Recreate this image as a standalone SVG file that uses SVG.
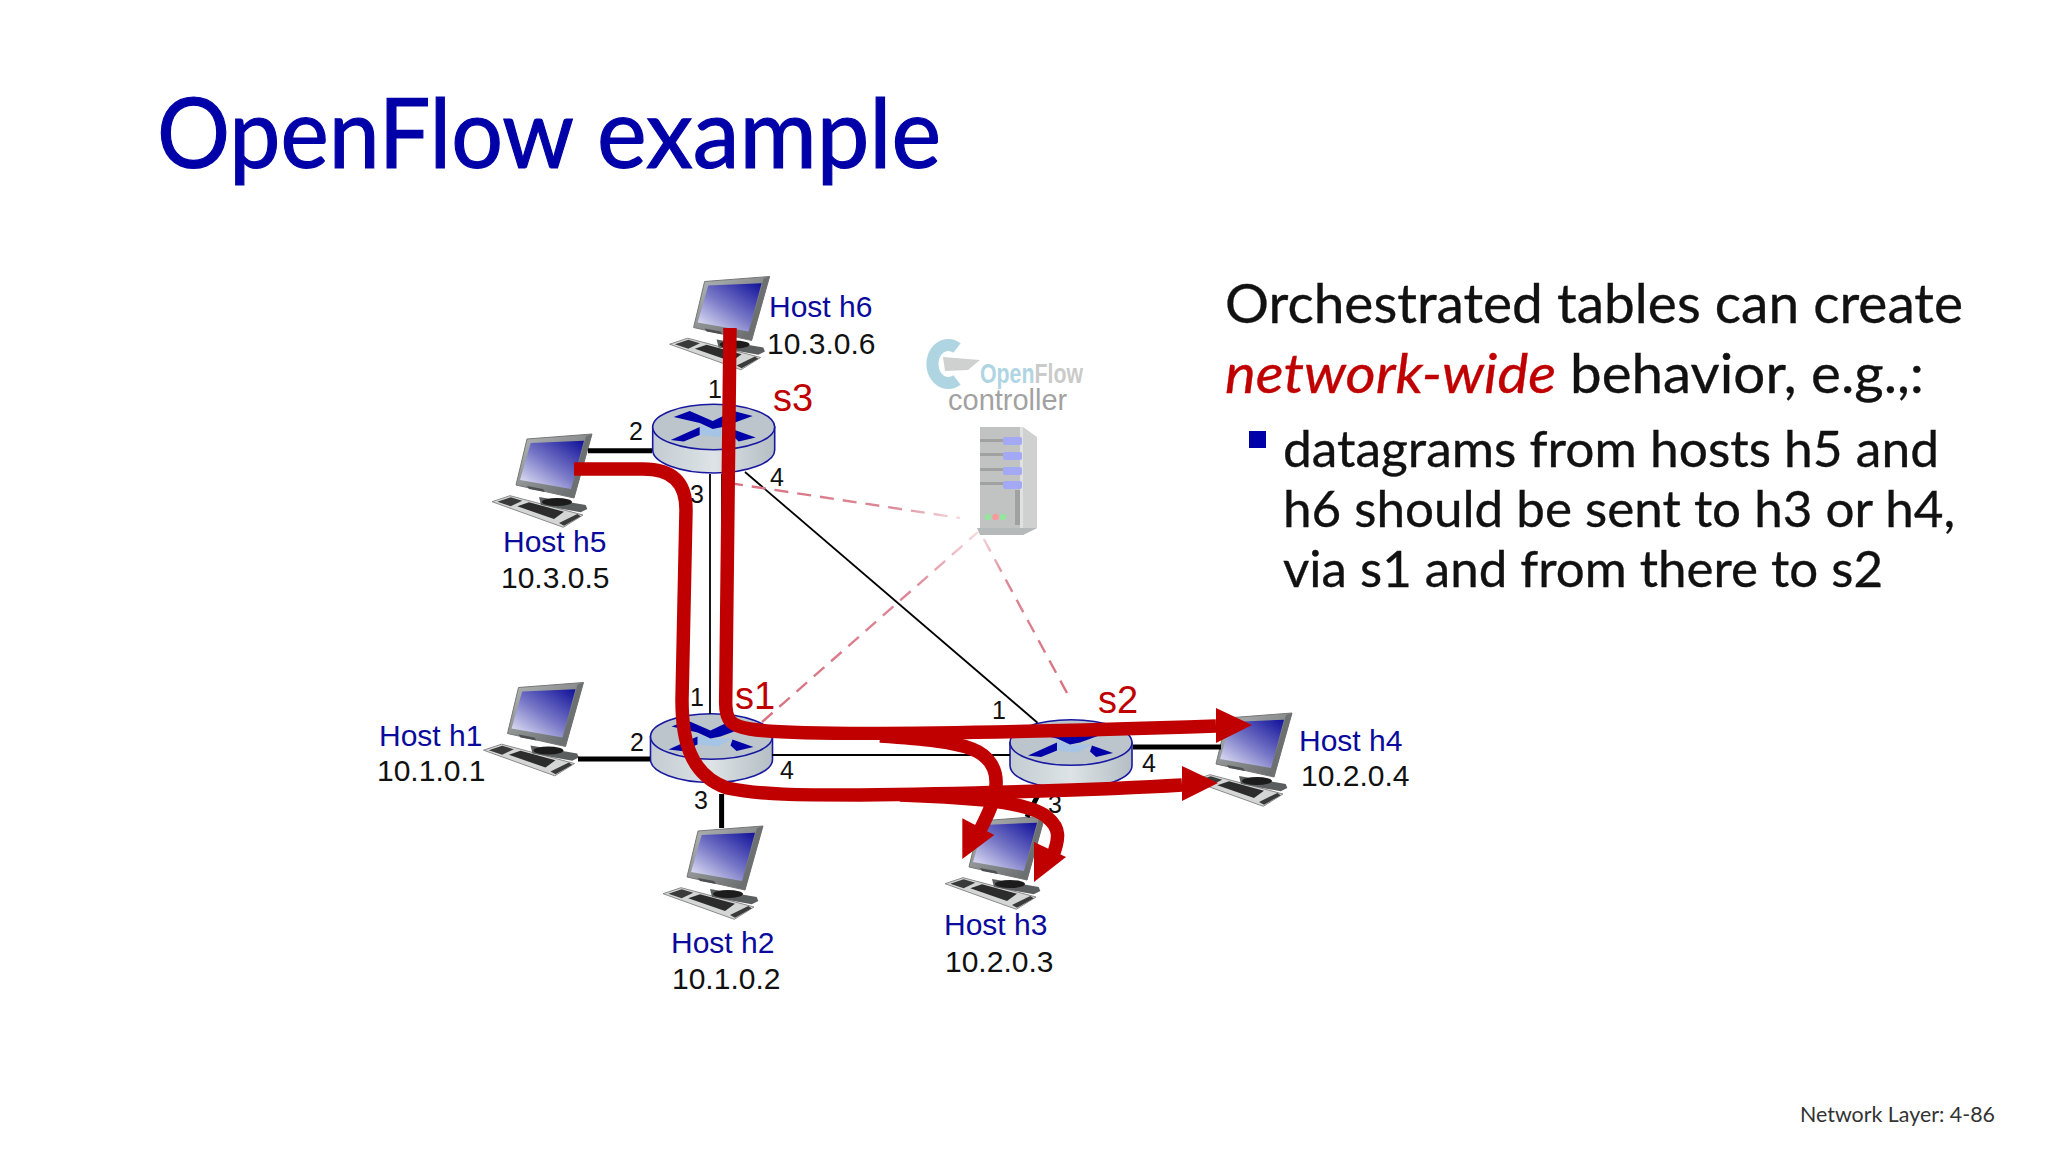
<svg xmlns="http://www.w3.org/2000/svg" width="2048" height="1152" viewBox="0 0 2048 1152">
<style>
text{font-family:"Liberation Sans",Arial,sans-serif}
.slide{font-family:Lato,"Open Sans",sans-serif}
.title{font-size:96px;fill:#0000a8;stroke:#0000a8;stroke-width:1.2}
.body{fill:#111;stroke:#111;stroke-width:.35}
.h{font-size:30px;fill:#0a0a9c}
.ip{font-size:30px;fill:#111}
.sw{font-size:38px;fill:#c00000}
.p{font-size:25px;fill:#111;text-anchor:middle}
.thick{stroke:#000;stroke-width:5;fill:none}
.thin{stroke:#000;stroke-width:1.8;fill:none}
.dash{stroke-width:2.4;stroke-dasharray:14 9;fill:none}
.flow{stroke:#c00000;stroke-width:13.5;fill:none;stroke-linejoin:round}
.head{fill:#c00000}
</style>
<defs>
<linearGradient id="scr" x1="1" y1="0" x2="0.1" y2="1"><stop offset="0" stop-color="#10109a"/><stop offset="0.55" stop-color="#7a7ac8"/><stop offset="1" stop-color="#e4e4f6"/></linearGradient>
<linearGradient id="bez" x1="0" y1="0" x2="1" y2="1"><stop offset="0" stop-color="#b4b8b8"/><stop offset="1" stop-color="#5c6060"/></linearGradient>
<linearGradient id="side" x1="0" y1="0" x2="1" y2="0"><stop offset="0" stop-color="#c3ccd2"/><stop offset="0.5" stop-color="#dde3e6"/><stop offset="1" stop-color="#b4bec4"/></linearGradient>
<linearGradient id="d1" gradientUnits="userSpaceOnUse" x1="729" y1="483" x2="960" y2="518"><stop offset="0" stop-color="#d9707f"/><stop offset="0.7" stop-color="#dc8896"/><stop offset="1" stop-color="#f6dce0"/></linearGradient>
<linearGradient id="d2" gradientUnits="userSpaceOnUse" x1="762" y1="722" x2="978" y2="532"><stop offset="0" stop-color="#d9707f"/><stop offset="0.7" stop-color="#dc8896"/><stop offset="1" stop-color="#f6dce0"/></linearGradient>
<linearGradient id="d3" gradientUnits="userSpaceOnUse" x1="1067" y1="693" x2="980" y2="532"><stop offset="0" stop-color="#d9707f"/><stop offset="0.7" stop-color="#dc8896"/><stop offset="1" stop-color="#f6dce0"/></linearGradient>
<g id="host">
<polygon points="-1,66.7 17,60.7 90,80 70.3,92.3" fill="#d4d6d6" stroke="#8a8a8a" stroke-width="1"/>
<polygon points="4.3,66.7 17.7,62.3 29.3,65.7 17.7,71.3" fill="#3a3a3a"/>
<polygon points="24.3,71.3 36,67.3 71,76.7 61,84" fill="#2c2c2c"/>
<polygon points="66,88 84.3,79 87.7,81.3 71,90.7" fill="#3a3a3a"/>
<polygon points="46,62 92.7,70 94.3,74 87.7,77.3 48,70" fill="#5a5e5e"/>
<ellipse cx="64" cy="67" rx="15" ry="4" fill="#1c1c1c"/>
<polygon points="34,4 99,-1 81,63 23,50" fill="url(#bez)" stroke="#777" stroke-width="1"/>
<polygon points="37.7,8 91,5.7 78,54 27,45" fill="url(#scr)"/>
<polygon points="93,1 99,-1 81,63 77,61" fill="#6c7070"/>
<polygon points="34,51 50,54 52,57 36,54" fill="#4c5050"/>
</g>
<g id="router">
<path d="M-61,0 V23 A61,23 0 0 0 61,23 V0 Z" fill="url(#side)" stroke="#1818a0" stroke-width="1.6"/>
<ellipse cx="0" cy="0" rx="61" ry="22.8" fill="#bcc5cc" stroke="#1818a0" stroke-width="1.6"/>
<polygon points="-14,-2 -1,2 21,2 6,10 -14,8" fill="#a6c4e6"/>
<polygon points="-40,-10 -24,-16 -1,-6 20,-16 39,-11 9,0 -1,2 -14,-4" fill="#0000a8"/>
<polygon points="-43,13 -14,0 -14,8 -30,14.5" fill="#0000a8"/>
<polygon points="21,3 42,10.5 25,14.5 19,9" fill="#0000a8"/>
</g>
</defs>
<rect width="2048" height="1152" fill="#fff"/>
<text class="slide title" x="157" y="168" textLength="417" lengthAdjust="spacingAndGlyphs">OpenFlow</text>
<text class="slide title" x="597" y="168" textLength="344" lengthAdjust="spacingAndGlyphs">example</text>
<text class="slide body" x="1225" y="323" font-size="54" textLength="738" lengthAdjust="spacingAndGlyphs">Orchestrated tables can create</text>
<text class="slide" x="1225" y="393" font-size="54" font-style="italic" fill="#c00000" stroke="#c00000" stroke-width=".35" textLength="331" lengthAdjust="spacingAndGlyphs">network-wide</text>
<text class="slide body" x="1570" y="393" font-size="54" textLength="354" lengthAdjust="spacingAndGlyphs">behavior, e.g.,:</text>
<rect x="1249" y="431" width="17" height="17" fill="#0000a8"/>
<text class="slide body" x="1283" y="467" font-size="50" textLength="656" lengthAdjust="spacingAndGlyphs">datagrams from hosts h5 and</text>
<text class="slide body" x="1283" y="527" font-size="50" textLength="672" lengthAdjust="spacingAndGlyphs">h6 should be sent to h3 or h4,</text>
<text class="slide body" x="1283" y="587" font-size="50" textLength="600" lengthAdjust="spacingAndGlyphs">via s1 and from there to s2</text>
<text class="slide" x="1800" y="1122" font-size="21" fill="#333" textLength="195" lengthAdjust="spacingAndGlyphs">Network Layer: 4-86</text>

<g id="h6"><use href="#host" x="670.6" y="277.5"/><text class="h" x="769" y="317">Host h6</text><text class="ip" x="767" y="354">10.3.0.6</text></g>
<g id="h5"><use href="#host" x="493" y="435"/><text class="h" x="503" y="552">Host h5</text><text class="ip" x="501" y="588">10.3.0.5</text></g>
<g id="h1"><use href="#host" x="484.5" y="683.5"/><text class="h" x="379" y="746">Host h1</text><text class="ip" x="377" y="781">10.1.0.1</text></g>
<g id="h2"><use href="#host" x="664" y="827"/><text class="h" x="671" y="953">Host h2</text><text class="ip" x="672" y="989">10.1.0.2</text></g>
<g id="h3"><use href="#host" x="946" y="817"/><text class="h" x="944" y="935">Host h3</text><text class="ip" x="945" y="972">10.2.0.3</text></g>
<g id="h4"><use href="#host" x="1193" y="714"/><text class="h" x="1299" y="751">Host h4</text><text class="ip" x="1301" y="786">10.2.0.4</text></g>

<g id="s3"><use href="#router" x="713.7" y="427"/><text class="sw" x="773" y="411">s3</text><text class="p" x="715" y="398">1</text><text class="p" x="636" y="440">2</text><text class="p" x="697" y="503">3</text><text class="p" x="777" y="486">4</text></g>
<g id="s1"><use href="#router" x="711.5" y="736.5"/><text class="sw" x="735" y="709">s1</text><text class="p" x="697" y="706">1</text><text class="p" x="637" y="751">2</text><text class="p" x="701" y="809">3</text><text class="p" x="787" y="779">4</text></g>
<g id="s2"><use href="#router" x="1071" y="742.5"/><text class="sw" x="1098" y="713">s2</text><text class="p" x="999" y="719">1</text><text class="p" x="1055" y="813">3</text><text class="p" x="1149" y="772">4</text></g>

<g id="controller" opacity="0.55">
<path d="M957,348A16,19 0 1 0 957,380" fill="none" stroke="#6fb4cc" stroke-width="12"/>
<polygon points="943,357 980,360 968,370 945,371" fill="#a8acac"/>
<text x="980" y="383" font-size="27" font-weight="bold" fill="#6fb4cc" textLength="103" lengthAdjust="spacingAndGlyphs">Open<tspan fill="#a0a0a0">Flow</tspan></text>
<text x="948" y="410" font-size="29" fill="#555">controller</text>
<polygon points="1023,427 1037,437 1037,528 1023,535" fill="#a8acac"/>
<rect x="980" y="427" width="43" height="103" fill="#909292"/>
<rect x="1020" y="427" width="3" height="103" fill="#c8caca"/>
<polygon points="977,528 1037,528 1023,535 980,535" fill="#7c8080"/>
<g fill="#555"><rect x="980" y="439" width="25" height="3"/><rect x="980" y="453" width="25" height="3"/><rect x="980" y="468" width="25" height="3"/><rect x="980" y="482" width="25" height="3"/></g>
<g fill="#5a64ee"><rect x="1003" y="437" width="19" height="8" rx="2"/><rect x="1003" y="452" width="19" height="8" rx="2"/><rect x="1003" y="467" width="19" height="8" rx="2"/><rect x="1003" y="481" width="19" height="8" rx="2"/></g>
<rect x="1015" y="490" width="5" height="35" fill="#555"/>
<circle cx="988" cy="517" r="3.2" fill="#3fd050"/><circle cx="995.5" cy="517" r="3.2" fill="#f04848"/><circle cx="1003" cy="517" r="3.2" fill="#3fd050"/>
</g>

<g id="connectors">
<path class="thick" d="M588,450.7H652"/>
<path class="thick" d="M578,759H650"/>
<path class="thick" d="M721.6,794V828"/>
<path class="thick" d="M1133,747H1221"/>
<path class="thick" d="M1038,795L1027,817"/>
<path class="thin" d="M710,474V714"/>
<path class="thin" d="M722,474V714"/>
<path class="thin" d="M745,472L1037.5,722.7"/>
<path class="thin" d="M772,755H1010"/>
<path class="dash" stroke="url(#d1)" d="M729,483L960,518"/>
<path class="dash" stroke="url(#d2)" d="M762,722L978,532"/>
<path class="dash" stroke="url(#d3)" d="M1067,693L980,532"/>
<path class="flow" d="M730,328L725.7,700C725,722 732,726 750,729C800,737 1000,733 1216,726"/>
<polygon class="head" points="1216,708 1252,725 1216,743"/>
<path class="flow" d="M880,736C925,739 955,742 972,749C990,756 997,770 996,785C995,800 988,815 977,836"/>
<polygon class="head" points="962.3,818.3 994.3,835 962.3,859"/>
<path class="flow" d="M574,469H643C672,469 686,482 686,510L682,700C682,740 690,775 727,788C760,795 800,795 860,795C950,794 1100,790 1182,785"/>
<polygon class="head" points="1182,766 1218,783 1182,801"/>
<path class="flow" d="M900,795C930,796 963,798 985,800C1020,804 1040,810 1048,818C1060,828 1060,838 1052,858"/>
<polygon class="head" points="1034,842 1066,857 1034,882"/>
</g>
</svg>
